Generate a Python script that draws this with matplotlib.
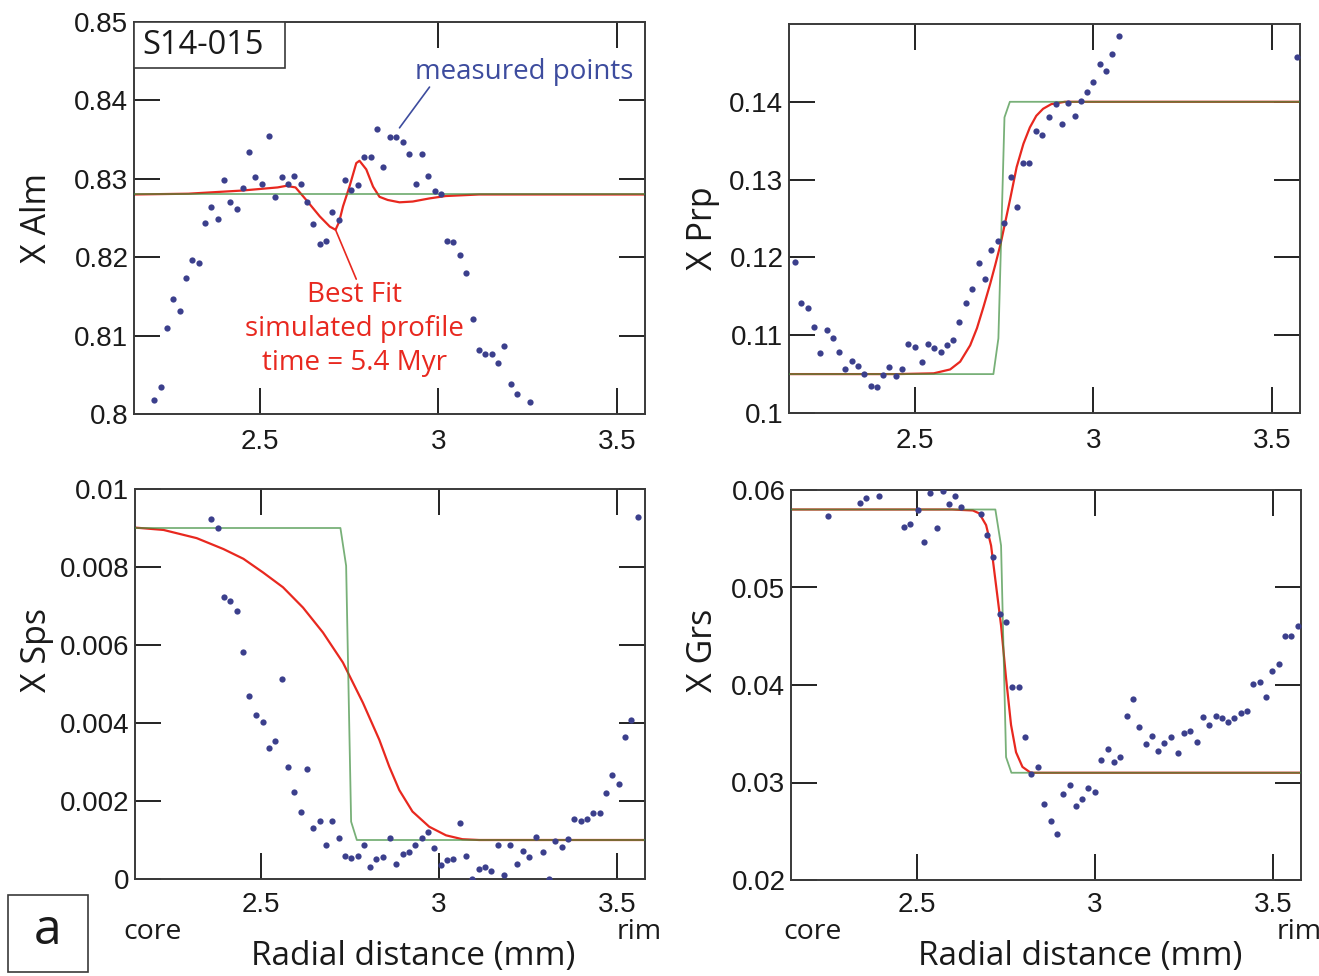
import matplotlib
matplotlib.use("Agg")
import matplotlib.pyplot as plt
from matplotlib.patches import Rectangle

# ---------------- data ----------------
x_range = [2.148, 3.578]
x_ticks = [2.5, 3.0, 3.5]
x_tick_labels = ["2.5", "3", "3.5"]

# X Alm
alm_x = [2.204, 2.223, 2.239, 2.258, 2.276, 2.293, 2.311, 2.329, 2.346, 2.364, 2.382, 2.399, 2.417, 2.435,
         2.453, 2.470, 2.488, 2.507, 2.525, 2.543, 2.561, 2.579, 2.597, 2.615, 2.632, 2.650, 2.668, 2.685,
         2.703, 2.721, 2.738, 2.756, 2.775, 2.792, 2.810, 2.828, 2.845, 2.864, 2.882, 2.900, 2.918, 2.936,
         2.953, 2.971, 2.989, 3.007, 3.024, 3.042, 3.060, 3.077, 3.096, 3.114, 3.131, 3.149, 3.167, 3.184,
         3.202, 3.221, 3.257]
alm_y = [0.8018, 0.8034, 0.8110, 0.8147, 0.8132, 0.8174, 0.8196, 0.8192, 0.8244, 0.8264, 0.8249, 0.8298,
         0.8270, 0.8261, 0.8288, 0.8334, 0.8302, 0.8294, 0.8354, 0.8277, 0.8302, 0.8293, 0.8304, 0.8294,
         0.8271, 0.8242, 0.8217, 0.8221, 0.8258, 0.8248, 0.8299, 0.8286, 0.8292, 0.8328, 0.8328, 0.8364,
         0.8315, 0.8353, 0.8353, 0.8347, 0.8332, 0.8294, 0.8331, 0.8303, 0.8285, 0.8281, 0.8221, 0.8220,
         0.8203, 0.8180, 0.8121, 0.8081, 0.8076, 0.8076, 0.8065, 0.8087, 0.8038, 0.8025, 0.8015]
alm_fit_x = [2.148, 2.30, 2.45, 2.55, 2.574, 2.60, 2.63, 2.668, 2.696, 2.712, 2.722, 2.733, 2.751, 2.770,
             2.779, 2.798, 2.817, 2.835, 2.858, 2.891, 2.928, 2.975, 3.02, 3.114, 3.578]
alm_fit_y = [0.8280, 0.8281, 0.8285, 0.8289, 0.8291, 0.8289, 0.8273, 0.8252, 0.8239, 0.8235, 0.8245,
             0.8265, 0.8290, 0.8320, 0.8323, 0.8312, 0.8290, 0.8277, 0.8273, 0.8270, 0.8271, 0.8275,
             0.8278, 0.8280, 0.8280]
alm_init_x = [2.148, 3.578]
alm_init_y = [0.8280, 0.8280]

# X Prp
prp_x = [2.165, 2.182, 2.200, 2.218, 2.235, 2.253, 2.271, 2.288, 2.306, 2.324, 2.341, 2.359, 2.377, 2.394,
         2.412, 2.429, 2.447, 2.465, 2.482, 2.502, 2.519, 2.537, 2.555, 2.572, 2.590, 2.608, 2.625, 2.643,
         2.661, 2.679, 2.697, 2.714, 2.732, 2.750, 2.768, 2.786, 2.804, 2.821, 2.839, 2.857, 2.876, 2.894,
         2.911, 2.929, 2.947, 2.964, 2.982, 3.000, 3.017, 3.035, 3.053, 3.071, 3.570]
prp_y = [0.1194, 0.1141, 0.1135, 0.1110, 0.1077, 0.1107, 0.1097, 0.1079, 0.1057, 0.1067, 0.1061, 0.1050,
         0.1035, 0.1034, 0.1049, 0.1059, 0.1047, 0.1056, 0.1089, 0.1085, 0.1065, 0.1089, 0.1084, 0.1079,
         0.1087, 0.1094, 0.1117, 0.1142, 0.1159, 0.1193, 0.1172, 0.1209, 0.1221, 0.1244, 0.1303, 0.1265,
         0.1321, 0.1321, 0.1362, 0.1357, 0.1381, 0.1397, 0.1372, 0.1398, 0.1382, 0.1401, 0.1412, 0.1425,
         0.1449, 0.1439, 0.1462, 0.1485, 0.1458]
prp_fit_x = [2.148, 2.45, 2.553, 2.599, 2.627, 2.655, 2.674, 2.692, 2.711, 2.725, 2.740, 2.753, 2.766,
             2.785, 2.804, 2.822, 2.840, 2.859, 2.882, 2.92, 3.578]
prp_fit_y = [0.1050, 0.1050, 0.1051, 0.1056, 0.1066, 0.1087, 0.1109, 0.1136, 0.1166, 0.1190, 0.1217,
             0.1245, 0.1273, 0.1316, 0.1346, 0.1367, 0.1382, 0.1391, 0.1397, 0.1400, 0.1400]
prp_init_x = [2.148, 2.720, 2.734, 2.751, 2.766, 3.578]
prp_init_y = [0.1050, 0.1050, 0.1096, 0.1380, 0.1400, 0.1400]

# X Sps
sps_x = [2.361, 2.380, 2.398, 2.415, 2.433, 2.451, 2.468, 2.487, 2.506, 2.523, 2.541, 2.559, 2.577, 2.595,
         2.613, 2.630, 2.648, 2.666, 2.683, 2.701, 2.719, 2.736, 2.754, 2.772, 2.790, 2.807, 2.825, 2.844,
         2.862, 2.881, 2.899, 2.916, 2.934, 2.952, 2.969, 2.987, 3.005, 3.022, 3.040, 3.058, 3.075, 3.094,
         3.112, 3.129, 3.147, 3.165, 3.182, 3.200, 3.219, 3.236, 3.254, 3.273, 3.291, 3.308, 3.326, 3.344,
         3.361, 3.380, 3.398, 3.415, 3.433, 3.451, 3.468, 3.486, 3.504, 3.521, 3.539, 3.557]
sps_y = [0.00924, 0.00901, 0.00724, 0.00712, 0.00688, 0.00582, 0.00468, 0.00420, 0.00403, 0.00336,
         0.00355, 0.00513, 0.00286, 0.00222, 0.00173, 0.00282, 0.00131, 0.00148, 0.00088, 0.00149,
         0.00106, 0.00059, 0.00054, 0.00059, 0.00087, 0.00030, 0.00051, 0.00057, 0.00106, 0.00038,
         0.00064, 0.00069, 0.00087, 0.00106, 0.00121, 0.00079, 0.00036, 0.00048, 0.00052, 0.00144,
         0.00059, 0.00000, 0.00025, 0.00032, 0.00021, 0.00088, 0.00009, 0.00087, 0.00038, 0.00071,
         0.00056, 0.00108, 0.00068, 0.00001, 0.00097, 0.00081, 0.00102, 0.00154, 0.00148, 0.00154,
         0.00170, 0.00169, 0.00220, 0.00267, 0.00244, 0.00363, 0.00407, 0.00927]
sps_fit_x = [2.149, 2.228, 2.321, 2.396, 2.452, 2.507, 2.563, 2.619, 2.675, 2.731, 2.787, 2.833, 2.861,
             2.889, 2.926, 2.973, 3.020, 3.066, 3.113, 3.578]
sps_fit_y = [0.00901, 0.00895, 0.00874, 0.00846, 0.00821, 0.00786, 0.00748, 0.00696, 0.00632, 0.00555,
             0.00452, 0.00357, 0.00288, 0.00228, 0.00173, 0.00134, 0.00112, 0.00102, 0.00100, 0.00100]
sps_init_x = [2.148, 2.724, 2.740, 2.754, 2.770, 3.578]
sps_init_y = [0.00900, 0.00900, 0.00803, 0.00147, 0.00100, 0.00100]

# X Grs
grs_x = [2.253, 2.341, 2.359, 2.395, 2.466, 2.483, 2.504, 2.520, 2.538, 2.556, 2.573, 2.591, 2.609, 2.626,
         2.680, 2.698, 2.715, 2.733, 2.751, 2.768, 2.786, 2.804, 2.821, 2.840, 2.858, 2.876, 2.893, 2.911,
         2.929, 2.947, 2.964, 2.982, 3.000, 3.018, 3.036, 3.053, 3.071, 3.089, 3.106, 3.124, 3.142, 3.159,
         3.177, 3.195, 3.214, 3.233, 3.250, 3.268, 3.286, 3.303, 3.321, 3.339, 3.356, 3.374, 3.391, 3.409,
         3.427, 3.444, 3.462, 3.480, 3.497, 3.515, 3.533, 3.550, 3.570]
grs_y = [0.05733, 0.05863, 0.05921, 0.05942, 0.05620, 0.05654, 0.05791, 0.05466, 0.05966, 0.05613,
         0.05986, 0.05856, 0.05935, 0.05829, 0.05757, 0.05534, 0.05315, 0.04729, 0.04644, 0.03976,
         0.03976, 0.03462, 0.03086, 0.03164, 0.02781, 0.02610, 0.02476, 0.02877, 0.02979, 0.02757,
         0.02829, 0.02942, 0.02901, 0.03226, 0.03339, 0.03209, 0.03260, 0.03678, 0.03860, 0.03565,
         0.03390, 0.03476, 0.03318, 0.03404, 0.03462, 0.03301, 0.03507, 0.03527, 0.03411, 0.03671,
         0.03592, 0.03685, 0.03658, 0.03620, 0.03658, 0.03709, 0.03729, 0.04007, 0.04034, 0.03880,
         0.04147, 0.04219, 0.04500, 0.04507, 0.04610]
grs_fit_x = [2.148, 2.60, 2.658, 2.676, 2.695, 2.709, 2.723, 2.737, 2.751, 2.765, 2.779, 2.797, 2.820, 3.578]
grs_fit_y = [0.0580, 0.0580, 0.0579, 0.0576, 0.0564, 0.0543, 0.0502, 0.0461, 0.0407, 0.0359, 0.0331,
             0.0316, 0.0310, 0.0310]
grs_init_x = [2.148, 2.721, 2.737, 2.751, 2.766, 3.578]
grs_init_y = [0.0580, 0.0580, 0.0543, 0.0326, 0.0310, 0.0310]

alm_ticks = [0.80, 0.81, 0.82, 0.83, 0.84, 0.85]
alm_labels = ["0.8", "0.81", "0.82", "0.83", "0.84", "0.85"]
prp_ticks = [0.10, 0.11, 0.12, 0.13, 0.14]
prp_labels = ["0.1", "0.11", "0.12", "0.13", "0.14"]
sps_ticks = [0.0, 0.002, 0.004, 0.006, 0.008, 0.010]
sps_labels = ["0", "0.002", "0.004", "0.006", "0.008", "0.01"]
grs_ticks = [0.02, 0.03, 0.04, 0.05, 0.06]
grs_labels = ["0.02", "0.03", "0.04", "0.05", "0.06"]

# ---------------- style ----------------
W, H = 1319, 976
LABEL_FONT = ["Open Sans", "DejaVu Sans"]
TICK_FONT = ["Liberation Sans", "DejaVu Sans"]
FRAME = "#3a3a3a"
DOT = "#3b3f8c"
RED = "#e8281f"
GREEN = "#3f8f3f"

fig = plt.figure(figsize=(W / 100, H / 100), dpi=100)


def px_axes(left, top, right, bottom):
    return fig.add_axes([left / W, 1 - bottom / H, (right - left) / W, (bottom - top) / H])


def fx(px):
    return px / W


def fy(py):
    return 1 - py / H


def style(ax, ylim, yticks, ylabels, xpad):
    ax.set_xlim(*x_range)
    ax.set_ylim(*ylim)
    ax.set_xticks(x_ticks)
    ax.set_xticklabels(x_tick_labels)
    ax.set_yticks(yticks)
    ax.set_yticklabels(ylabels)
    ax.tick_params(direction="in", length=19, width=1.4, color="#222222",
                   top=True, right=True, labelsize=20, pad=4)
    ax.tick_params(axis="x", pad=xpad)
    for lab in ax.get_xticklabels() + ax.get_yticklabels():
        lab.set_family(TICK_FONT)
        lab.set_color("#1a1a1a")
    for sp in ax.spines.values():
        sp.set_color(FRAME)
        sp.set_linewidth(1.4)


def draw(ax, x, y, fx_, fy_, ix, iy):
    ax.plot(fx_, fy_, color=RED, lw=1.6, zorder=2, solid_capstyle="butt")
    ax.plot(ix, iy, color=GREEN, lw=1.3, alpha=0.7, zorder=3)
    ax.plot(x, y, "o", ms=4.5, color=DOT, mec="none", zorder=4)


ax1 = px_axes(134, 22, 645, 414)
ax2 = px_axes(789, 24, 1300, 413)
ax3 = px_axes(135, 489, 645, 879)
ax4 = px_axes(791, 490, 1301, 880)

draw(ax1, alm_x, alm_y, alm_fit_x, alm_fit_y, alm_init_x, alm_init_y)
draw(ax2, prp_x, prp_y, prp_fit_x, prp_fit_y, prp_init_x, prp_init_y)
draw(ax3, sps_x, sps_y, sps_fit_x, sps_fit_y, sps_init_x, sps_init_y)
draw(ax4, grs_x, grs_y, grs_fit_x, grs_fit_y, grs_init_x, grs_init_y)

style(ax1, (0.80, 0.85), alm_ticks, alm_labels, 11)
style(ax2, (0.10, 0.15), prp_ticks, prp_labels, 11)
style(ax3, (0.0, 0.010), sps_ticks, sps_labels, 9)
style(ax4, (0.02, 0.06), grs_ticks, grs_labels, 9)

# axis titles
ylab_kw = dict(rotation=90, ha="center", va="center", fontsize=24.5, family=LABEL_FONT, color="#1a1a1a")
fig.text(fx(37), fy(218), "X Alm", **ylab_kw)
fig.text(fx(703), fy(228), "X Prp", **ylab_kw)
fig.text(fx(37), fy(650), "X Sps", **ylab_kw)
fig.text(fx(703), fy(650), "X Grs", **ylab_kw)

xlab_kw = dict(ha="center", va="center", fontsize=24, family=LABEL_FONT, color="#1a1a1a")
fig.text(fx(413), fy(957), "Radial distance (mm)", **xlab_kw)
fig.text(fx(1080), fy(957), "Radial distance (mm)", **xlab_kw)

# core / rim markers under the distance axes
end_kw = dict(ha="center", va="baseline", fontsize=20.5, family=LABEL_FONT, color="#1a1a1a")
fig.text(fx(153), fy(939), "core", **end_kw)
fig.text(fx(639), fy(939), "rim", **end_kw)
fig.text(fx(813), fy(939), "core", **end_kw)
fig.text(fx(1299), fy(939), "rim", **end_kw)

# panel letter
fig.patches.append(Rectangle((fx(8), fy(972)), (88 - 8) / W, (972 - 895) / H,
                             transform=fig.transFigure, fill=False, ec=FRAME, lw=1.2))
fig.text(fx(48), fy(931), "a", ha="center", va="center", fontsize=36, family=LABEL_FONT, color="#1a1a1a")

# sample name box
ax1.add_patch(Rectangle((0, 1 - 46 / 392), 151 / 511, 46 / 392, transform=ax1.transAxes,
                        fill=True, fc="white", ec=FRAME, lw=1.2, zorder=5))
ax1.text(8 / 511, 1 - 23 / 392, "S14-015", transform=ax1.transAxes, ha="left", va="center",
         fontsize=23.5, family=LABEL_FONT, color="#1a1a1a", zorder=6)

# annotations
BLUE_TXT = "#3d4c9e"
ax1.text(2.933, 0.8436, "measured points", ha="left", va="center", fontsize=20,
         family=LABEL_FONT, color=BLUE_TXT)
ax1.annotate("", xy=(2.891, 0.8365), xytext=(2.975, 0.8417),
             arrowprops=dict(arrowstyle="-", color=BLUE_TXT, lw=1.2, shrinkA=0, shrinkB=0))
ax1.annotate("", xy=(2.712, 0.8235), xytext=(2.770, 0.8172),
             arrowprops=dict(arrowstyle="-", color=RED, lw=1.2, shrinkA=0, shrinkB=0))
ax1.text(2.765, 0.8170, "Best Fit\nsimulated profile\ntime = 5.4 Myr", ha="center", va="top",
         fontsize=20, family=LABEL_FONT, color=RED, linespacing=1.3)

fig.savefig("out.png", dpi=100)
